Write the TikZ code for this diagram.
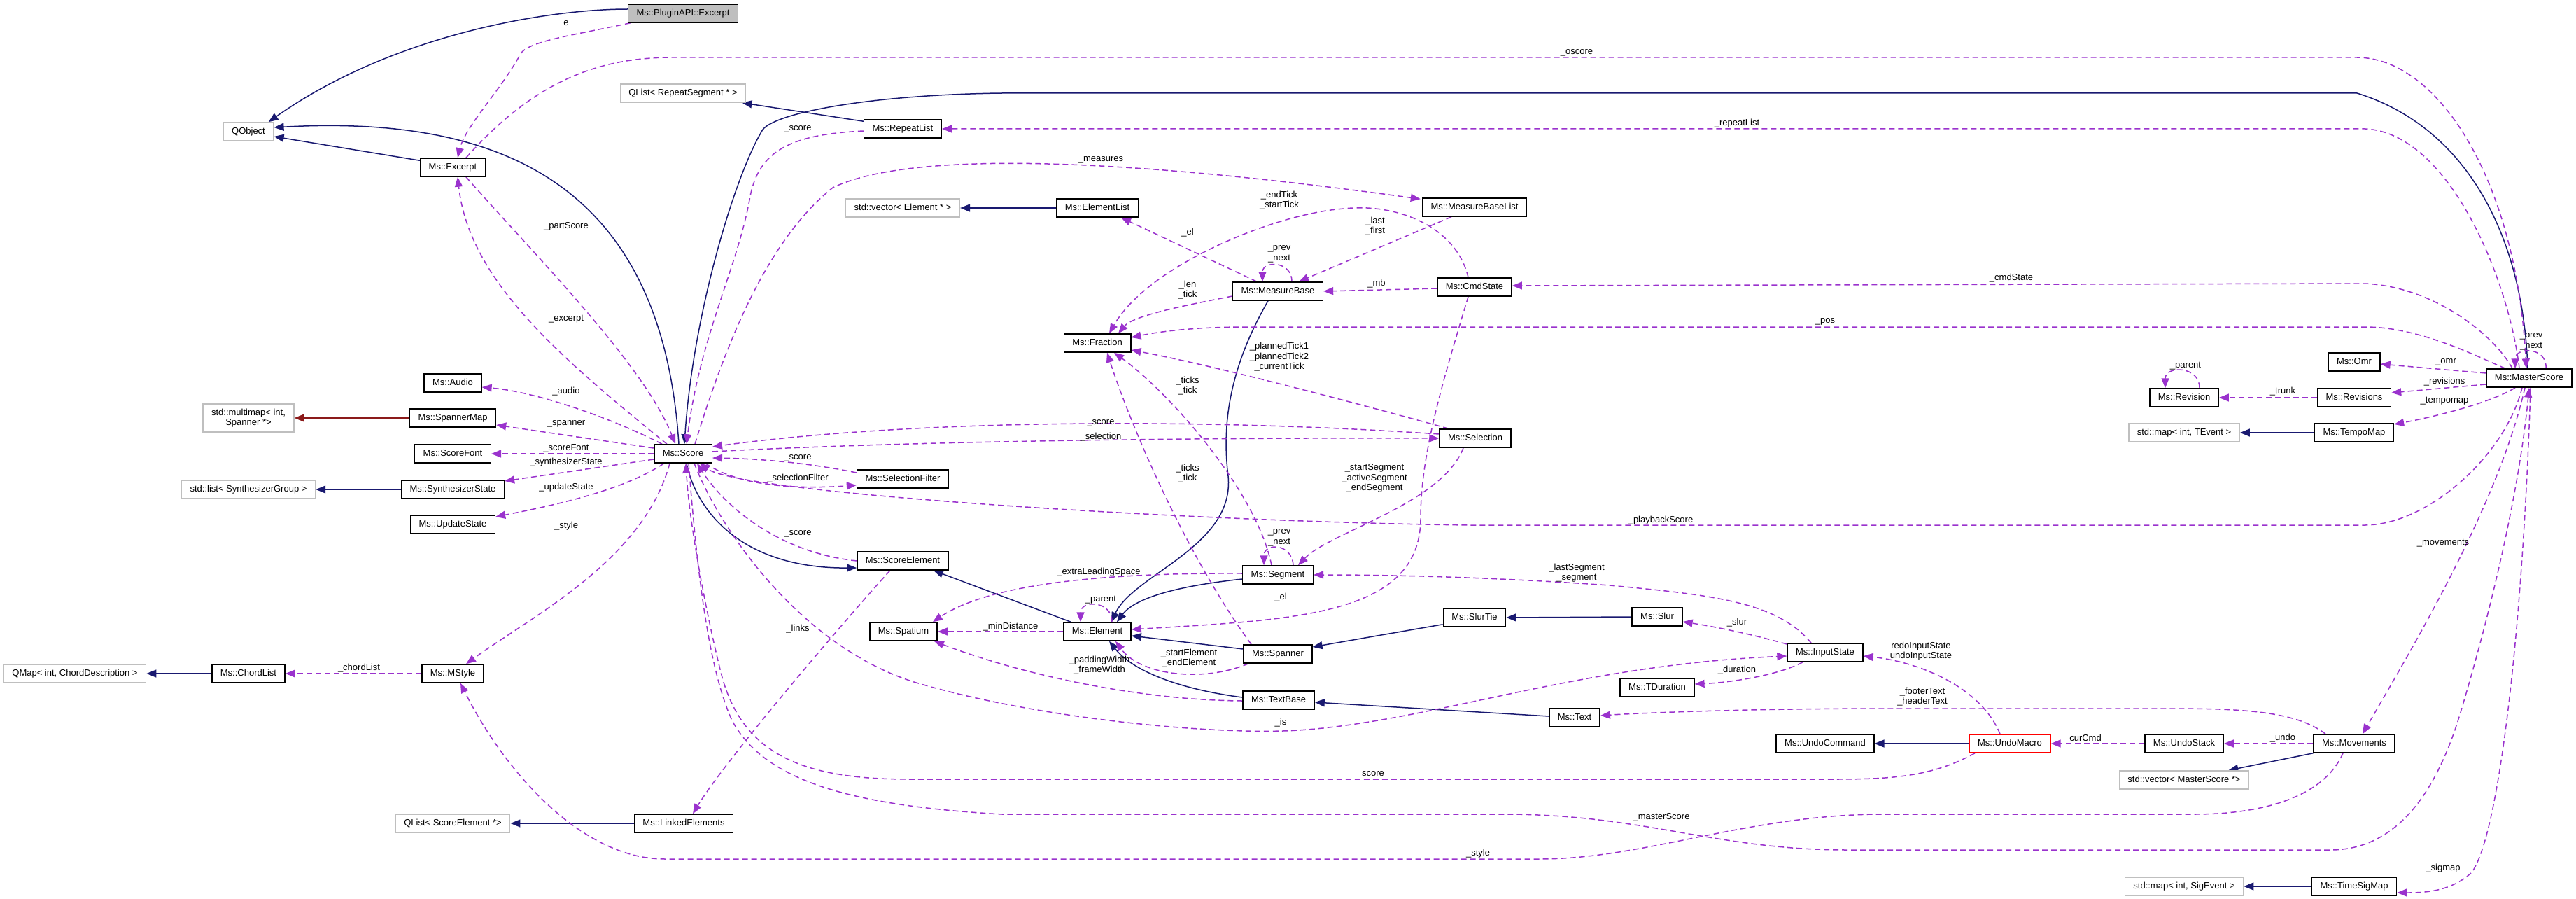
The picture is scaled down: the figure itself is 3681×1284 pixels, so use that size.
\documentclass[tikz,border=0pt]{standalone}
\usepackage{fontspec}
\setmainfont{Liberation Sans}
\usetikzlibrary{arrows.meta,calc,backgrounds}
\definecolor{edgepurple}{HTML}{9A32CD}
\definecolor{inhblue}{HTML}{191970}
\definecolor{privred}{HTML}{8B1A1A}
\definecolor{extgray}{HTML}{BFBFBF}
\tikzset{
  boxbase/.style={line width=1.5pt, fill=white, font=\fontsize{13}{14.5}\selectfont, inner xsep=12pt, inner ysep=0pt},
  cls/.style={boxbase, draw=black, minimum height=26pt, text height=9.5pt, text depth=2.7pt},
  extcls/.style={cls, draw=extgray},
  extclstwo/.style={boxbase, draw=extgray, minimum height=40pt, align=center},
  maincls/.style={cls, fill=extgray},
  redcls/.style={cls, draw=red},
  inh/.style={draw=inhblue, line width=1.5pt, -{Triangle[length=14pt,width=11pt]}},
  privinh/.style={draw=privred, line width=1.5pt, -{Triangle[length=14pt,width=11pt]}},
  use/.style={draw=edgepurple, line width=1.5pt, dash pattern=on 8pt off 5pt, -{Triangle[length=14pt,width=11pt]}},
  lbl/.style={font=\fontsize{13}{14.5}\selectfont, inner sep=0pt, align=center}
}
\begin{document}
\begin{tikzpicture}[x=1pt,y=-1pt]
\useasboundingbox (0,0) rectangle (3681,1284);
% ---------------- nodes ----------------
\node[maincls] (pe) at (976,19) {Ms::PluginAPI::Excerpt};
\node[extcls] (qobject) at (355,188) {QObject};
\node[cls] (excerpt) at (647,239) {Ms::Excerpt};
\node[extcls] (qlistrs) at (976,133) {QList< RepeatSegment * >};
\node[cls] (repeatlist) at (1290,184) {Ms::RepeatList};
\node[extcls] (vecel) at (1290,297) {std::vector< Element * >};
\node[cls] (elementlist) at (1568,297) {Ms::ElementList};
\node[cls] (mblist) at (2107,296) {Ms::MeasureBaseList};
\node[cls] (measurebase) at (1826,416) {Ms::MeasureBase};
\node[cls] (cmdstate) at (2107,410) {Ms::CmdState};
\node[cls] (fraction) at (1568,490) {Ms::Fraction};
\node[cls] (audio) at (647,547) {Ms::Audio};
\node[extclstwo] (multimap) at (355,597) {std::multimap< int,\\Spanner *>};
\node[cls] (spannermap) at (647,597) {Ms::SpannerMap};
\node[cls] (scorefont) at (647,648) {Ms::ScoreFont};
\node[extcls] (synthgroup) at (355,699) {std::list< SynthesizerGroup >};
\node[cls] (synthstate) at (647,699) {Ms::SynthesizerState};
\node[cls] (updatestate) at (647,749) {Ms::UpdateState};
\node[cls] (score) at (976,648) {Ms::Score};
\node[cls] (selection) at (2108,626) {Ms::Selection};
\node[cls] (selfilter) at (1290,684) {Ms::SelectionFilter};
\node[cls] (scoreelement) at (1290,801) {Ms::ScoreElement};
\node[cls] (segment) at (1826,821) {Ms::Segment};
\node[cls] (spatium) at (1291,902) {Ms::Spatium};
\node[cls] (element) at (1568,902) {Ms::Element};
\node[cls] (slurtie) at (2107,882) {Ms::SlurTie};
\node[cls] (slur) at (2368,881) {Ms::Slur};
\node[cls] (spanner) at (1826,934) {Ms::Spanner};
\node[cls] (textbase) at (1827,1000) {Ms::TextBase};
\node[cls] (tduration) at (2368,982) {Ms::TDuration};
\node[cls] (text) at (2250,1025) {Ms::Text};
\node[cls] (inputstate) at (2608,932) {Ms::InputState};
\node[cls] (undocommand) at (2608,1062) {Ms::UndoCommand};
\node[redcls] (undomacro) at (2872,1062) {Ms::UndoMacro};
\node[cls] (undostack) at (3121,1062) {Ms::UndoStack};
\node[cls] (movements) at (3364,1062) {Ms::Movements};
\node[extcls] (vecms) at (3121,1114) {std::vector< MasterScore *>};
\node[extcls] (mapsig) at (3121,1266) {std::map< int, SigEvent >};
\node[cls] (timesigmap) at (3364,1266) {Ms::TimeSigMap};
\node[cls] (masterscore) at (3614,540) {Ms::MasterScore};
\node[cls] (omr) at (3364,517) {Ms::Omr};
\node[cls] (revision) at (3121,568) {Ms::Revision};
\node[cls] (revisions) at (3364,568) {Ms::Revisions};
\node[extcls] (mapte) at (3121,618) {std::map< int, TEvent >};
\node[cls] (tempomap) at (3364,618) {Ms::TempoMap};
\node[extcls] (qmap) at (107,962) {QMap< int, ChordDescription >};
\node[cls] (chordlist) at (355,962) {Ms::ChordList};
\node[cls] (mstyle) at (647,962) {Ms::MStyle};
\node[extcls] (qlistse) at (647,1176) {QList< ScoreElement *>};
\node[cls] (linked) at (977,1176) {Ms::LinkedElements};

\begin{scope}[on background layer]
% ---------------- inheritance ----------------
\draw[inh] ($(pe.west)+(0,-6)$) .. controls (780,13) and (560,50) .. ($(qobject.north east)+(-8,0)$);
\draw[inh] ($(excerpt.north west)+(0,4)$) -- ($(qobject.east)+(0,7)$);
\draw[inh] ($(score.north)+(-6,0)$) .. controls (945,250) and (700,165) .. ($(qobject.east)+(0,-6)$);
\draw[inh] ($(repeatlist.north west)+(0,3)$) -- ($(qlistrs.south east)+(-6,0)$);
\draw[inh] (elementlist.west) -- (vecel.east);
\draw[privinh] (spannermap.west) -- (multimap.east);
\draw[inh] (synthstate.west) -- (synthgroup.east);
\draw[inh] (chordlist.west) -- (qmap.east);
\draw[inh] (linked.west) -- (qlistse.east);
\draw[inh] ($(score.south)+(5,0)$) .. controls (995,730) and (1060,812) .. ($(scoreelement.west)+(0,10)$);
\draw[inh] ($(masterscore.north)+(-2,0)$) .. controls (3605,330) and (3520,180) .. (3368,133) -- (1432,133) .. controls (1250,135) and (1110,160) .. (1090,185) .. controls (1050,250) and (990,450) .. ($(score.north)+(2,0)$);
\draw[inh] ($(measurebase.south)+(-14,0)$) .. controls (1760,520) and (1745,600) .. (1755,680) .. controls (1765,780) and (1620,820) .. ($(element.north)+(20,0)$);
\draw[inh] ($(segment.west)+(0,6)$) .. controls (1700,835) and (1625,850) .. ($(element.north)+(28,0)$);
\draw[inh] ($(element.north west)+(11,0)$) -- ($(scoreelement.south east)+(-22,0)$);
\draw[inh] ($(spanner.west)+(0,-7)$) -- ($(element.east)+(0,6)$);
\draw[inh] ($(textbase.west)+(0,-4)$) .. controls (1690,985) and (1620,960) .. ($(element.south)+(17,0)$);
\draw[inh] ($(slurtie.south west)+(0,-4)$) -- ($(spanner.east)+(0,-10)$);
\draw[inh] (slur.west) -- (slurtie.east);
\draw[inh] ($(text.west)+(0,-2)$) -- ($(textbase.east)+(0,3)$);
\draw[inh] (tempomap.west) -- (mapte.east);
\draw[inh] (undomacro.west) -- (undocommand.east);
\draw[inh] (movements.south west) -- ($(vecms.north east)+(-30,0)$);
\draw[inh] (timesigmap.west) -- (mapsig.east);

% ---------------- usage ----------------
\draw[use] ($(pe.south west)+(4,0)$) .. controls (820,50) and (760,58) .. (745,75) .. controls (715,130) and (665,180) .. ($(excerpt.north)+(7,0)$);
\draw[use] ($(score.north)+(-23,0)$) .. controls (800,510) and (670,400) .. ($(excerpt.south)+(7,0)$);
\draw[use] ($(excerpt.south)+(19,0)$) .. controls (760,360) and (920,520) .. ($(score.north)+(-11,0)$);
\draw[use] ($(excerpt.north)+(19,0)$) .. controls (760,120) and (850,82) .. (960,82) -- (3368,82) .. controls (3480,82) and (3595,250) .. ($(masterscore.north)+(-4,0)$);
\draw[use] ($(repeatlist.west)+(0,3)$) .. controls (1130,192) and (1085,215) .. (1072,280) .. controls (1055,380) and (1000,480) .. ($(score.north)+(5,0)$);
\draw[use] ($(score.north)+(17,0)$) .. controls (1040,480) and (1100,340) .. (1190,268) .. controls (1300,215) and (1600,225) .. ($(mblist.north west)+(-2,2)$);
\draw[use] ($(masterscore.north)+(-14,0)$) .. controls (3585,400) and (3500,190) .. (3380,184) -- (repeatlist.east);
\draw[use] ($(mblist.south)+(-33,0)$) -- ($(measurebase.north)+(30,0)$);
\draw[use] ($(measurebase.north)+(-30,0)$) -- ($(elementlist.south)+(34,0)$);
\draw[use] ($(measurebase.north)+(20,0)$) .. controls (1846,372) and (1804,372) .. ($(measurebase.north)+(-22,0)$);
\draw[use] ($(measurebase.west)+(0,7)$) .. controls (1700,435) and (1620,450) .. ($(fraction.north)+(30,0)$);
\draw[use] ($(cmdstate.north)+(-9,0)$) .. controls (2080,320) and (1990,290) .. (1921,298) .. controls (1820,305) and (1640,380) .. ($(fraction.north)+(17,0)$);
\draw[use] ($(cmdstate.west)+(0,2)$) -- (measurebase.east);
\draw[use] ($(masterscore.north)+(-24,0)$) .. controls (3565,480) and (3480,410) .. (3380,405) -- ($(cmdstate.east)+(0,-2)$);
\draw[use] ($(masterscore.north)+(-34,0)$) .. controls (3545,512) and (3460,467) .. (3380,467) -- (1780,467) .. controls (1700,467) and (1650,475) .. ($(fraction.east)+(0,-8)$);
\draw[use] ($(selection.north)+(-38,0)$) .. controls (1990,590) and (1750,525) .. ($(fraction.east)+(0,10)$);
\draw[use] ($(segment.north)+(-9,0)$) .. controls (1795,700) and (1670,560) .. ($(fraction.south)+(24,0)$);
\draw[use] ($(spanner.north)+(-38,0)$) .. controls (1700,800) and (1620,620) .. ($(fraction.south)+(14,0)$);
\draw[use] ($(segment.north)+(22,0)$) .. controls (1846,775) and (1806,775) .. ($(segment.north)+(-20,0)$);
\draw[use] ($(selection.south)+(-17,0)$) .. controls (2060,720) and (1900,760) .. ($(segment.north)+(29,0)$);
\draw[use] ($(selection.west)+(0,-6)$) .. controls (1700,596) and (1300,600) .. ($(score.east)+(0,-10)$);
\draw[use] ($(score.east)+(0,-3)$) .. controls (1300,630) and (1700,625) .. (selection.west);
\draw[use] ($(score.south)+(32,0)$) .. controls (1050,690) and (1120,700) .. ($(selfilter.west)+(0,9)$);
\draw[use] ($(selfilter.west)+(0,-9)$) .. controls (1150,660) and (1080,655) .. ($(score.east)+(0,6)$);
\draw[use] ($(masterscore.south)+(-10,0)$) .. controls (3580,650) and (3470,749) .. (3380,750) -- (2100,750) .. controls (1700,745) and (1060,705) .. ($(score.south)+(24,0)$);
\draw[use] (scoreelement.west) .. controls (1120,790) and (1040,730) .. ($(score.south)+(20,0)$);
\draw[use] ($(scoreelement.south)+(-18,0)$) .. controls (1230,860) and (1040,1080) .. ($(linked.north)+(13,0)$);
\draw[use] ($(score.north)+(-30,0)$) .. controls (880,600) and (770,560) .. ($(audio.east)+(0,6)$);
\draw[use] ($(score.west)+(0,-8)$) -- ($(spannermap.east)+(0,10)$);
\draw[use] (score.west) -- (scorefont.east);
\draw[use] ($(score.west)+(0,8)$) -- ($(synthstate.east)+(0,-12)$);
\draw[use] ($(score.south)+(-27,0)$) .. controls (890,700) and (800,720) .. ($(updatestate.east)+(0,-11)$);
\draw[use] ($(score.south)+(-19,0)$) .. controls (920,800) and (760,880) .. ($(mstyle.north)+(19,0)$);
\draw[use] (mstyle.west) -- (chordlist.east);
\draw[use] ($(movements.south)+(-16,0)$) .. controls (3320,1140) and (3230,1163) .. (3135,1163) -- (2690,1163) .. controls (2500,1163) and (2350,1227) .. (2200,1227) -- (950,1227) .. controls (830,1227) and (720,1100) .. ($(mstyle.south)+(11,0)$);
\draw[use] ($(score.south)+(8,0)$) .. controls (995,800) and (1010,950) .. (1046,1029) .. controls (1090,1110) and (1200,1150) .. (1432,1163) -- (2150,1163) .. controls (2350,1163) and (2450,1214) .. (2640,1214) -- (3330,1214) .. controls (3420,1214) and (3480,1140) .. (3517,1014) .. controls (3560,870) and (3600,700) .. (masterscore.south);
\draw[use] ($(undomacro.south)+(-50,0)$) .. controls (2760,1110) and (2700,1113) .. (2620,1113) -- (1300,1113) .. controls (1150,1113) and (1060,1080) .. (1030,960) .. controls (1010,880) and (985,750) .. ($(score.south)+(4,0)$);
\draw[use] ($(score.south)+(16,0)$) .. controls (1030,760) and (1150,930) .. (1316,977) .. controls (1500,1030) and (1750,1050) .. (1855,1043) .. controls (2050,1030) and (2250,950) .. ($(inputstate.west)+(0,5)$);
\draw[use] ($(inputstate.north)+(-20,0)$) .. controls (2540,860) and (2450,850) .. (2300,836) .. controls (2100,822) and (1950,821) .. (segment.east);
\draw[use] ($(inputstate.west)+(0,-12)$) .. controls (2500,905) and (2450,895) .. ($(slur.east)+(0,7)$);
\draw[use] ($(inputstate.south)+(-32,0)$) .. controls (2540,965) and (2470,975) .. ($(tduration.east)+(0,-5)$);
\draw[use] ($(undomacro.north)+(-14,0)$) .. controls (2830,980) and (2740,945) .. ($(inputstate.east)+(0,5)$);
\draw[use] ($(movements.north)+(-41,0)$) .. controls (3280,1015) and (3200,1012) .. (3100,1012) -- (2700,1012) .. controls (2500,1012) and (2350,1018) .. ($(text.east)+(0,-3)$);
\draw[use] (undostack.west) -- (undomacro.east);
\draw[use] (movements.west) -- (undostack.east);
\draw[use] ($(masterscore.south)+(-6,0)$) .. controls (3570,720) and (3450,920) .. ($(movements.north)+(12,0)$);
\draw[use] ($(masterscore.south)+(2,0)$) .. controls (3605,900) and (3570,1200) .. (3531,1247) .. controls (3500,1275) and (3460,1275) .. ($(timesigmap.east)+(0,9)$);
\draw[use] ($(masterscore.west)+(0,-7)$) -- ($(omr.east)+(0,3)$);
\draw[use] ($(masterscore.west)+(0,9)$) -- ($(revisions.east)+(0,-7)$);
\draw[use] ($(masterscore.south)+(-20,0)$) .. controls (3560,575) and (3480,595) .. ($(tempomap.east)+(0,-12)$);
\draw[use] (revisions.west) -- (revision.east);
\draw[use] ($(revision.north)+(22,0)$) .. controls (3143,522) and (3094,522) .. ($(revision.north)+(-27,0)$);
\draw[use] ($(masterscore.north)+(24,0)$) .. controls (3640,495) and (3594,495) .. ($(masterscore.north)+(-20,0)$);
\draw[use] ($(element.north)+(21,0)$) .. controls (1589,857) and (1544,857) .. ($(element.north)+(-24,0)$);
\draw[use] (element.west) -- (spatium.east);
\draw[use] ($(segment.west)+(0,-2)$) .. controls (1600,818) and (1420,830) .. ($(spatium.north east)+(-7,0)$);
\draw[use] ($(textbase.west)+(0,1)$) .. controls (1620,1000) and (1450,960) .. ($(spatium.south east)+(-5,0)$);
\draw[use] ($(spanner.south)+(-42,0)$) .. controls (1720,975) and (1630,965) .. ($(element.south)+(26,0)$);
\draw[use] ($(cmdstate.south)+(-9,0)$) .. controls (2060,550) and (2030,650) .. (2030,740) .. controls (2030,880) and (1850,885) .. ($(element.east)+(0,-3)$);

% ---------------- labels ----------------
\node[lbl] (l1) at (809,33) {e};
\node[lbl] (l2) at (809,323) {\_partScore};
\node[lbl] (l3) at (809,456) {\_excerpt};
\node[lbl] (l4) at (1140,184) {\_score};
\node[lbl] (l5) at (2253,75) {\_oscore};
\node[lbl] (l6) at (2482,176) {\_repeatList};
\node[lbl] (l7) at (1573,228) {\_measures};
\node[lbl] (l8) at (1828,286) {\_endTick\\\_startTick};
\node[lbl] (l9) at (1965,323) {\_last\\\_first};
\node[lbl] (l10) at (1697,332) {\_el};
\node[lbl] (l11) at (1828,363) {\_prev\\\_next};
\node[lbl] (l12) at (1697,414) {\_len\\\_tick};
\node[lbl] (l13) at (1967,405) {\_mb};
\node[lbl] (l14) at (2874,397) {\_cmdState};
\node[lbl] (l15) at (2608,459) {\_pos};
\node[lbl] (l16) at (1828,510) {\_plannedTick1\\\_plannedTick2\\\_currentTick};
\node[lbl] (l17) at (1697,551) {\_ticks\\\_tick};
\node[lbl] (l18) at (1573,604) {\_score};
\node[lbl] (l19) at (1573,624) {\_selection};
\node[lbl] (l20) at (1697,676) {\_ticks\\\_tick};
\node[lbl] (l21) at (1964,683) {\_startSegment\\\_activeSegment\\\_endSegment};
\node[lbl] (l22) at (2373,743) {\_playbackScore};
\node[lbl] (l23) at (1828,768) {\_prev\\\_next};
\node[lbl] (l24) at (1570,817) {\_extraLeadingSpace};
\node[lbl] (l25) at (2253,818) {\_lastSegment\\\_segment};
\node[lbl] (l26) at (1573,857) {\_parent};
\node[lbl] (l27) at (1830,853) {\_el};
\node[lbl] (l28) at (1444,895) {\_minDistance};
\node[lbl] (l29) at (1699,940) {\_startElement\\\_endElement};
\node[lbl] (l30) at (1571,950) {\_paddingWidth\\\_frameWidth};
\node[lbl] (l31) at (1830,1032) {\_is};
\node[lbl] (l32) at (1962,1105) {score};
\node[lbl] (l33) at (2374,1167) {\_masterScore};
\node[lbl] (l34) at (2112,1219) {\_style};
\node[lbl] (l35) at (809,559) {\_audio};
\node[lbl] (l36) at (809,605) {\_spanner};
\node[lbl] (l37) at (809,640) {\_scoreFont};
\node[lbl] (l38) at (809,660) {\_synthesizerState};
\node[lbl] (l39) at (809,696) {\_updateState};
\node[lbl] (l40) at (809,751) {\_style};
\node[lbl] (l41) at (1140,654) {\_score};
\node[lbl] (l42) at (1140,683) {\_selectionFilter};
\node[lbl] (l43) at (1140,762) {\_score};
\node[lbl] (l44) at (1140,898) {\_links};
\node[lbl] (l45) at (513,954) {\_chordList};
\node[lbl] (l46) at (2482,889) {\_slur};
\node[lbl] (l47) at (2482,957) {\_duration};
\node[lbl] (l48) at (2745,930) {redoInputState\\undoInputState};
\node[lbl] (l49) at (2747,995) {\_footerText\\\_headerText};
\node[lbl] (l50) at (2980,1054) {curCmd};
\node[lbl] (l51) at (3262,1054) {\_undo};
\node[lbl] (l52) at (3491,1240) {\_sigmap};
\node[lbl] (l53) at (3491,776) {\_movements};
\node[lbl] (l54) at (3495,517) {\_omr};
\node[lbl] (l55) at (3493,545) {\_revisions};
\node[lbl] (l56) at (3493,573) {\_tempomap};
\node[lbl] (l57) at (3262,559) {\_trunk};
\node[lbl] (l58) at (3123,523) {\_parent};
\node[lbl] (l59) at (3617,488) {\_prev\\\_next};
\end{scope}
\end{tikzpicture}
\end{document}
